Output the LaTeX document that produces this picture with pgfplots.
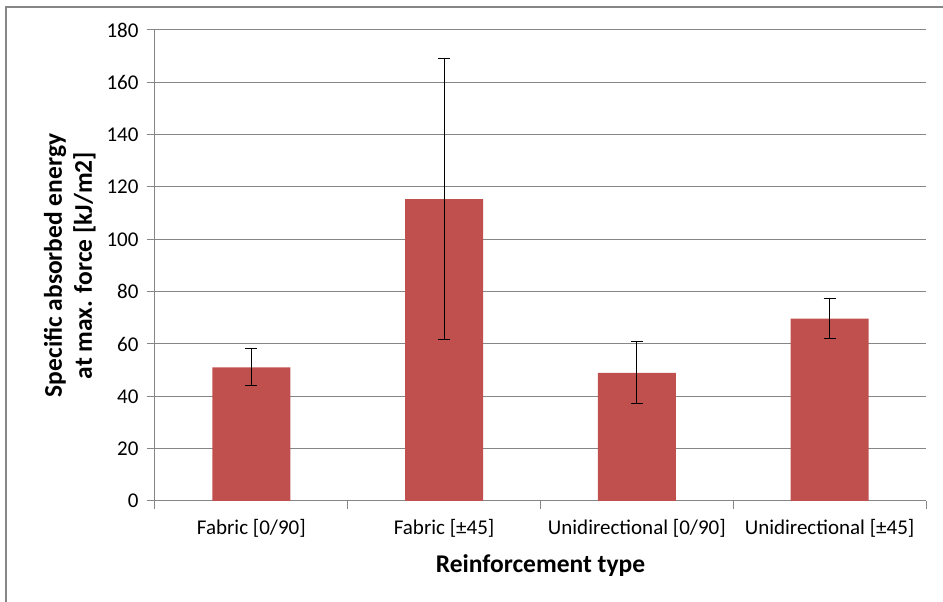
\documentclass[border=0pt]{standalone}
\usepackage{pgfplots}
\pgfplotsset{compat=1.18}
\usepackage{fontspec}
\setmainfont{Carlito}
\definecolor{barred}{HTML}{C0504D}
\definecolor{gridgray}{HTML}{868686}
\begin{document}
\begin{tikzpicture}
\path[use as bounding box] (0pt,0pt) rectangle (943pt,602pt);
\draw[gridgray, line width=2pt] (6pt,-5pt) -- (6pt,595pt) -- (950pt,595pt);
\begin{axis}[
  at={(155pt,101pt)}, anchor=south west,
  scale only axis, width=771pt, height=471pt,
  ymin=0, ymax=180, ytick={0,20,...,180},
  xmin=-0.5, xmax=3.5,
  xtick={0,1,2,3},
  xticklabels={Fabric [0/90], Fabric [±45], Unidirectional [0/90], Unidirectional [±45]},
  minor xtick={-0.5,0.5,1.5,2.5,3.5},
  major x tick style={draw=none},
  minor x tick style={gridgray, line width=1pt},
  tick align=outside,
  major tick length=8pt, minor tick length=8pt,
  y tick style={gridgray, line width=1pt},
  ymajorgrids, grid style={gridgray, line width=1pt},
  axis x line*=bottom, axis y line*=left,
  axis line style={gridgray, line width=1pt, -},
  tick label style={font=\fontsize{21}{25}\selectfont, black},
  /pgf/number format/assume math mode=true,
  yticklabel style={xshift=-5pt},
  xticklabel style={yshift=-7pt},
  xlabel={Reinforcement type},
  ylabel={Specific absorbed energy\\at max. force [kJ/m2]},
  label style={font=\fontsize{25.5}{30}\selectfont\bfseries, align=center},
  xlabel style={yshift=-10pt},
  ylabel style={yshift=4pt},
  clip=false,
]
\addplot[ybar, bar width=78pt, fill=barred, draw=none,
  error bars/.cd, y dir=both, y explicit,
  error bar style={black, line width=1pt},
  error mark options={rotate=90, mark size=6pt, black, line width=1pt}]
  coordinates {
  (0,51.1) +- (0,7.1)
  (1,115.4) +- (0,53.8)
  (2,49.0) +- (0,11.9)
  (3,69.7) +- (0,7.7)
  };
\end{axis}
\end{tikzpicture}
\end{document}
